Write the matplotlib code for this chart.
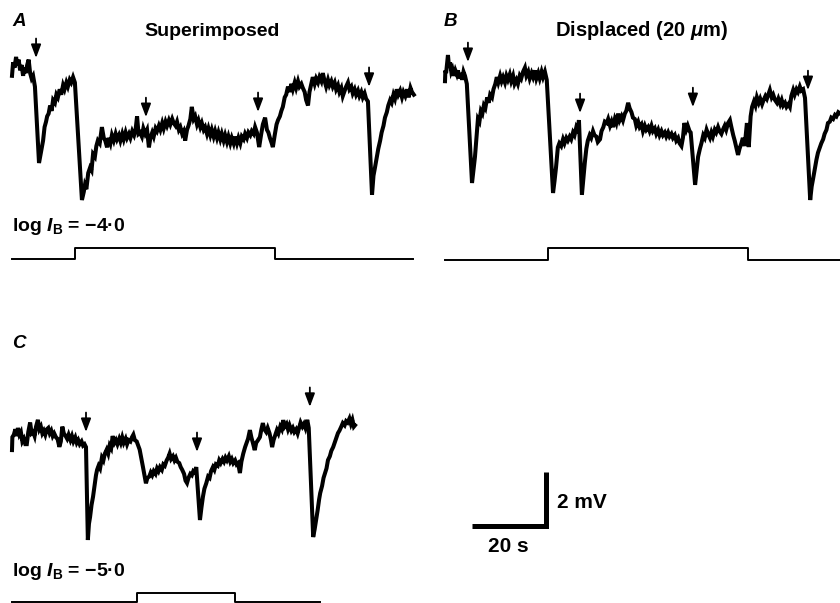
import matplotlib
matplotlib.use("Agg")
import matplotlib.pyplot as plt

plt.rcParams['font.family'] = ['Liberation Sans', 'DejaVu Sans']
plt.rcParams['mathtext.fontset'] = 'custom'
plt.rcParams['mathtext.rm'] = 'Liberation Sans:bold'
plt.rcParams['mathtext.it'] = 'Liberation Sans:italic:bold'
plt.rcParams['mathtext.bf'] = 'Liberation Sans:bold'

# ---- data: (time s, potential mV relative to deepest trough) ----
trace_A = [
    (0.0, 4.6), (0.3, 5.1), (0.7, 4.9), (1.1, 5.3), (1.4, 5.0), (1.8, 5.2), (2.2, 4.8),
    (2.6, 5.0), (3.0, 4.6), (3.3, 4.9), (3.7, 4.7), (4.1, 5.0), (4.5, 5.2), (4.9, 4.7),
    (5.3, 4.5), (5.7, 4.6), (6.2, 4.2), (7.3, 1.37), (8.0, 1.9), (8.4, 2.2), (8.8, 2.7),
    (9.2, 2.9), (9.5, 3.1), (9.9, 3.2), (10.3, 3.5), (10.7, 3.3), (11.1, 3.7), (11.6, 3.6),
    (12.0, 3.9), (12.4, 3.8), (12.9, 4.1), (13.3, 3.9), (13.8, 4.25), (14.2, 4.1),
    (14.7, 4.35), (15.1, 4.2), (15.6, 4.45), (16.0, 4.35), (16.5, 4.55), (17.0, 4.35),
    (18.9, 0.0), (19.4, 0.3), (19.7, 0.55), (20.1, 0.4), (20.6, 1.0), (21.1, 1.2),
    (21.5, 1.1), (21.9, 1.7), (22.4, 1.6), (22.8, 2.0), (23.2, 2.2), (23.7, 2.1),
    (24.3, 2.7), (24.8, 2.3), (25.2, 2.2), (25.7, 1.95), (26.1, 2.3), (26.6, 2.1),
    (27.0, 2.4), (27.5, 2.2), (28.0, 2.45), (28.4, 2.25), (28.9, 2.4), (29.3, 2.2),
    (29.8, 2.45), (30.2, 2.25), (30.7, 2.5), (31.1, 2.3), (31.6, 2.45), (32.0, 2.3),
    (32.5, 2.55), (33.0, 2.4), (33.4, 2.6), (33.8, 3.1), (34.2, 2.45), (34.6, 2.5),
    (35.1, 2.35), (35.5, 2.65), (36.0, 2.45), (36.5, 2.6), (37.0, 1.95), (37.4, 2.3),
    (37.9, 2.5), (38.3, 2.35), (38.8, 2.65), (39.2, 2.55), (39.7, 2.75), (40.1, 2.6),
    (40.6, 2.85), (41.0, 2.65), (41.5, 2.9), (41.9, 2.75), (42.4, 2.95), (42.8, 2.8),
    (43.3, 3.0), (43.7, 2.85), (44.2, 2.75), (44.6, 2.9), (45.1, 2.6), (45.5, 2.7),
    (46.0, 2.45), (46.4, 2.55), (46.8, 2.2), (47.3, 2.6), (47.7, 2.75), (48.2, 3.0),
    (48.6, 3.45), (49.1, 3.0), (49.5, 3.1), (50.0, 2.8), (50.4, 2.95), (50.9, 2.7),
    (51.3, 2.85), (51.8, 2.6), (52.2, 2.7), (52.7, 2.45), (53.1, 2.65), (53.6, 2.4),
    (54.0, 2.6), (54.5, 2.35), (54.9, 2.55), (55.4, 2.3), (55.8, 2.5), (56.3, 2.25),
    (56.7, 2.45), (57.2, 2.2), (57.6, 2.4), (58.1, 2.15), (58.5, 2.35), (59.0, 2.1),
    (59.4, 2.3), (59.9, 2.1), (60.3, 2.35), (60.8, 2.1), (61.2, 2.3), (61.7, 2.1),
    (62.1, 2.35), (62.6, 2.25), (63.0, 2.45), (63.5, 2.3), (63.9, 2.5), (64.4, 2.4),
    (64.8, 2.55), (65.3, 2.45), (65.7, 2.7), (66.2, 2.5), (66.8, 1.96), (67.3, 2.4),
    (67.8, 2.8), (68.4, 3.05), (68.9, 2.6), (69.3, 2.5), (69.7, 2.3), (70.2, 2.1),
    (70.5, 1.96), (71.0, 2.4), (71.5, 2.8), (71.9, 2.96), (72.4, 3.1), (72.8, 3.3),
    (73.2, 3.45), (73.7, 3.8), (74.1, 3.9), (74.6, 4.2), (75.0, 4.0), (75.5, 4.3),
    (75.9, 4.1), (76.4, 4.35), (76.8, 4.15), (77.3, 4.4), (77.7, 4.2), (78.2, 4.3),
    (78.6, 4.15), (79.1, 4.0), (79.5, 3.7), (80.0, 3.5), (80.4, 4.0), (80.9, 4.3),
    (81.3, 4.55), (81.8, 4.3), (82.2, 4.5), (82.7, 4.35), (83.1, 4.55), (83.6, 4.4),
    (84.0, 4.7), (84.5, 4.4), (84.9, 4.2), (85.4, 4.45), (85.8, 4.25), (86.3, 4.4),
    (86.7, 4.2), (87.2, 4.35), (87.6, 4.1), (88.1, 4.25), (88.5, 4.0), (89.0, 4.15),
    (89.4, 3.85), (89.9, 4.05), (90.3, 4.2), (90.8, 4.35), (91.2, 4.1), (91.7, 4.2),
    (92.1, 3.95), (92.6, 4.1), (93.0, 3.9), (93.5, 4.05), (93.9, 3.85), (94.4, 4.0),
    (94.8, 3.8), (95.3, 3.95), (95.7, 3.75), (96.2, 3.65), (97.3, 0.19), (97.7, 0.9),
    (98.1, 1.2), (98.6, 1.6), (99.0, 1.9), (99.5, 2.2), (99.9, 2.5), (100.4, 2.75),
    (100.8, 3.05), (101.3, 3.25), (101.7, 3.5), (102.2, 3.7), (102.6, 3.6), (103.1, 3.9),
    (103.5, 3.75), (104.0, 4.1), (104.4, 3.9), (104.9, 4.05), (105.4, 3.8), (105.8, 4.0),
    (106.3, 3.85), (106.8, 4.1), (107.2, 3.8), (107.7, 4.15), (108.1, 4.0), (108.6, 3.9),
]
arrows_A_t = [6.5, 36.2, 66.5, 96.5]
arrows_A_v = [5.26, 3.07, 3.26, 4.19]

trace_B = [
    (0.0, 4.4), (0.1, 4.8), (0.3, 4.7), (0.6, 5.1), (0.8, 5.37), (1.1, 4.9), (1.35, 5.1),
    (1.7, 4.75), (2.0, 4.85), (2.4, 4.6), (2.8, 4.8), (3.2, 4.65), (3.5, 4.8), (3.9, 4.5),
    (4.3, 4.7), (4.6, 4.45), (5.0, 4.75), (5.4, 4.6), (5.9, 4.3), (7.3, 0.63), (7.7, 1.1),
    (8.1, 1.6), (8.5, 2.3), (8.9, 3.0), (9.3, 2.9), (9.7, 3.3), (10.1, 3.2), (10.5, 3.5),
    (10.9, 3.4), (11.4, 3.8), (11.8, 3.6), (12.2, 3.9), (12.7, 3.8), (13.1, 4.1),
    (13.6, 4.3), (14.0, 4.55), (14.4, 4.35), (14.9, 4.6), (15.3, 4.4), (15.7, 4.55),
    (16.2, 4.35), (16.6, 4.6), (17.0, 4.45), (17.5, 4.65), (17.9, 4.4), (18.4, 4.6),
    (18.8, 4.3), (19.3, 4.45), (19.7, 4.3), (20.2, 4.6), (20.6, 4.5), (21.1, 4.75),
    (21.6, 4.9), (22.0, 4.6), (22.5, 4.75), (22.9, 4.5), (23.4, 4.7), (23.8, 4.55),
    (24.3, 4.8), (24.7, 4.5), (25.2, 4.7), (25.6, 4.5), (26.1, 4.75), (26.5, 4.55),
    (27.0, 4.75), (27.5, 4.45), (29.2, 0.26), (29.6, 0.7), (30.0, 1.2), (30.5, 1.95),
    (30.9, 2.1), (31.4, 2.0), (31.9, 2.25), (32.3, 2.1), (32.8, 2.3), (33.2, 2.2),
    (33.7, 2.35), (34.1, 2.25), (34.6, 2.5), (35.0, 2.4), (35.5, 2.7), (35.9, 2.6),
    (36.2, 2.96), (37.0, 0.19), (37.4, 0.8), (37.8, 1.4), (38.2, 1.9), (38.6, 2.2),
    (39.1, 2.4), (39.5, 2.3), (40.0, 2.55), (40.4, 2.4), (40.9, 2.35), (41.3, 2.15),
    (41.9, 2.25), (42.3, 2.55), (42.8, 2.7), (43.2, 2.9), (43.7, 2.85), (44.1, 3.0),
    (44.6, 2.75), (45.0, 2.9), (45.4, 2.7), (45.9, 3.0), (46.3, 2.85), (46.8, 3.2),
    (47.2, 2.95), (47.7, 3.1), (48.1, 2.95), (48.6, 3.2), (49.0, 3.3), (49.5, 3.6),
    (49.9, 3.4), (50.4, 3.25), (50.8, 3.05), (51.3, 3.0), (51.7, 2.75), (52.2, 2.9),
    (52.6, 2.7), (53.1, 2.8), (53.5, 2.55), (54.0, 2.75), (54.4, 2.6), (54.9, 2.7),
    (55.3, 2.55), (55.8, 2.75), (56.2, 2.55), (56.7, 2.65), (57.1, 2.45), (57.6, 2.6),
    (58.0, 2.4), (58.5, 2.55), (58.9, 2.4), (59.4, 2.5), (59.8, 2.35), (60.3, 2.5),
    (60.7, 2.35), (61.2, 2.45), (61.6, 2.3), (62.1, 2.4), (62.5, 2.2), (63.0, 2.3),
    (63.4, 2.1), (63.9, 2.0), (64.3, 2.3), (64.7, 2.85), (65.2, 2.6), (65.6, 2.75),
    (66.1, 2.55), (66.4, 2.5), (67.6, 0.56), (68.0, 1.1), (68.4, 1.6), (68.9, 1.9),
    (69.3, 2.1), (69.8, 2.4), (70.2, 2.3), (70.7, 2.6), (71.1, 2.45), (71.6, 2.3),
    (72.0, 2.5), (72.4, 2.35), (72.9, 2.6), (73.3, 2.5), (73.8, 2.7), (74.2, 2.55),
    (74.7, 2.45), (75.1, 2.6), (75.6, 2.75), (76.0, 2.6), (76.5, 2.85), (77.0, 2.96),
    (77.4, 2.7), (77.9, 2.4), (78.3, 2.2), (78.8, 1.9), (79.2, 1.67), (79.6, 1.9),
    (80.1, 2.1), (80.5, 2.3), (81.0, 2.0), (81.6, 2.85), (82.1, 1.96), (82.6, 3.1),
    (83.0, 3.45), (83.5, 3.65), (83.9, 3.5), (84.3, 3.8), (84.8, 3.6), (85.2, 3.75),
    (85.7, 3.55), (86.1, 3.7), (86.6, 3.85), (87.0, 3.75), (87.5, 3.95), (87.8, 4.07),
    (88.3, 3.8), (88.7, 3.9), (89.2, 3.7), (89.7, 3.6), (90.1, 3.75), (90.6, 3.55),
    (91.0, 3.7), (91.4, 3.5), (91.9, 3.6), (92.3, 3.45), (92.8, 3.55), (93.2, 3.45),
    (93.6, 3.85), (94.1, 4.07), (94.5, 3.9), (95.0, 4.1), (95.4, 4.0), (95.9, 4.2),
    (96.3, 4.05), (96.8, 4.1), (97.3, 3.78), (98.7, 0.0), (99.1, 0.5), (99.5, 0.8),
    (100.0, 1.2), (100.4, 1.5), (100.8, 1.75), (101.3, 1.95), (101.7, 2.1), (102.2, 2.25),
    (102.6, 2.45), (103.1, 2.6), (103.5, 2.85), (104.0, 2.9), (104.4, 3.05), (104.9, 3.0),
    (105.4, 3.15), (105.8, 3.1), (106.3, 3.25), (106.8, 3.2),
]
arrows_B_t = [6.2, 36.5, 67.0, 98.1]
arrows_B_v = [5.11, 3.22, 3.44, 4.07]

trace_C = [
    (0.0, 3.33), (0.1, 3.81), (0.5, 3.9), (0.9, 4.1), (1.3, 3.85), (1.6, 4.15), (2.0, 3.9),
    (2.4, 4.0), (2.8, 3.65), (3.2, 3.75), (3.6, 3.55), (4.0, 3.55), (4.4, 4.0), (4.9, 4.35),
    (5.3, 3.95), (5.7, 4.0), (6.1, 3.85), (6.5, 4.2), (7.0, 4.45), (7.4, 4.1), (7.8, 4.2),
    (8.2, 3.95), (8.6, 4.05), (9.0, 3.9), (9.4, 4.1), (9.8, 4.15), (10.2, 3.95),
    (10.6, 4.05), (11.0, 3.85), (11.4, 3.95), (11.9, 3.8), (12.3, 3.75), (12.8, 3.45),
    (13.2, 3.65), (13.6, 4.2), (14.0, 3.95), (14.5, 3.85), (14.9, 3.75), (15.3, 3.9),
    (15.8, 3.7), (16.2, 3.85), (16.6, 3.65), (17.1, 3.8), (17.5, 3.6), (17.9, 3.7),
    (18.3, 3.55), (18.8, 3.65), (19.2, 3.5), (19.6, 3.55), (20.0, 3.44), (20.5, 0.0),
    (20.8, 0.6), (21.1, 0.85), (21.5, 1.3), (21.9, 1.6), (22.3, 2.0), (22.7, 2.4),
    (23.0, 2.6), (23.4, 2.75), (23.8, 2.65), (24.3, 3.05), (24.7, 2.95), (25.1, 3.2),
    (25.6, 3.35), (26.0, 3.2), (26.4, 3.5), (26.8, 3.4), (27.2, 3.85), (27.7, 3.6),
    (28.1, 3.7), (28.5, 3.55), (29.0, 3.75), (29.4, 3.6), (29.8, 3.8), (30.2, 3.6),
    (30.7, 3.75), (31.1, 3.55), (31.5, 3.7), (32.0, 3.65), (32.4, 3.8), (32.8, 3.9),
    (33.2, 3.7), (33.7, 3.65), (34.1, 3.5), (34.5, 3.35), (35.0, 3.0), (35.4, 2.7),
    (35.8, 2.4), (36.2, 2.1), (36.6, 2.3), (37.1, 2.35), (37.5, 2.5), (37.9, 2.4),
    (38.3, 2.55), (38.8, 2.45), (39.2, 2.65), (39.6, 2.55), (40.0, 2.7), (40.5, 2.6),
    (40.9, 2.8), (41.3, 2.75), (41.8, 2.95), (42.2, 3.05), (42.6, 3.2), (43.0, 3.0),
    (43.5, 3.1), (43.9, 2.95), (44.3, 3.05), (44.7, 2.9), (45.2, 2.85), (45.6, 2.7),
    (46.0, 2.6), (46.5, 2.45), (46.9, 2.2), (47.3, 2.11), (47.7, 2.3), (48.2, 2.45),
    (48.6, 2.4), (49.0, 2.55), (49.4, 2.5), (49.8, 2.7), (50.8, 0.74), (51.2, 1.2),
    (51.6, 1.6), (52.0, 1.9), (52.5, 2.1), (53.0, 2.35), (53.4, 2.3), (53.8, 2.55),
    (54.3, 2.7), (54.7, 2.6), (55.1, 2.8), (55.6, 2.75), (56.0, 2.95), (56.4, 2.85),
    (56.9, 3.0), (57.3, 2.9), (57.7, 3.05), (58.1, 2.95), (58.6, 3.1), (59.0, 2.9),
    (59.4, 3.0), (59.8, 2.85), (60.3, 2.95), (60.7, 2.8), (61.1, 2.85), (61.6, 2.48),
    (62.0, 2.9), (62.5, 3.2), (63.0, 3.44), (63.4, 3.6), (63.8, 3.75), (64.3, 4.07),
    (64.7, 3.8), (65.1, 3.6), (65.6, 3.33), (66.0, 3.6), (66.5, 3.7), (67.0, 3.81),
    (67.4, 4.1), (67.8, 4.33), (68.2, 4.1), (68.7, 4.0), (69.1, 4.15), (69.6, 3.95),
    (70.0, 3.7), (70.3, 3.44), (70.7, 3.7), (71.2, 3.9), (71.6, 4.07), (72.0, 3.95),
    (72.5, 4.2), (72.9, 4.1), (73.3, 4.44), (73.7, 4.2), (74.2, 4.3), (74.6, 4.1),
    (75.0, 4.25), (75.5, 4.05), (75.9, 4.15), (76.3, 4.0), (76.8, 4.1), (77.2, 3.95),
    (77.6, 4.15), (78.0, 4.35), (78.5, 4.2), (78.9, 4.3), (79.3, 4.15), (79.8, 4.45),
    (80.2, 4.15), (81.4, 0.11), (81.8, 0.4), (82.2, 0.74), (82.6, 1.1), (83.0, 1.5),
    (83.3, 1.74), (83.8, 2.0), (84.2, 2.3), (84.6, 2.48), (85.0, 2.65), (85.4, 2.96),
    (85.9, 3.1), (86.3, 3.3), (86.8, 3.44), (87.2, 3.6), (87.6, 3.75), (88.1, 3.96),
    (88.5, 4.05), (89.0, 4.2), (89.4, 4.33), (89.9, 4.25), (90.3, 4.4), (90.7, 4.35),
    (91.2, 4.5), (91.6, 4.3), (92.0, 4.45), (92.4, 4.2), (92.7, 4.25),
]
arrows_C_t = [20.0, 50.0, 80.5]
arrows_C_v = [4.00, 3.26, 4.93]

# light stimulus: on time, off time, end of record (s)
stim_A = [17.0, 71.1, 108.4]
stim_B = [27.8, 81.9, 106.8]
stim_C = [33.8, 60.3, 83.2]

panel_titles = ['Superimposed', r'Displaced (20 $\mathit{μ}$m)']
intensity_labels = [r'log $\mathit{I}_\mathbf{B}$ = −4·0', r'log $\mathit{I}_\mathbf{B}$ = −5·0']
scale_time = 20   # s
scale_volt = 2    # mV

# ---- layout (pixels) ----
W, H = 840, 603
PX_S = 3.7
PX_MV = 27.0

fig = plt.figure(figsize=(W / 100, H / 100), dpi=100)


def px_axes(left, top, width, height):
    ax = fig.add_axes([left / W, 1 - (top + height) / H, width / W, height / H])
    ax.set_axis_off()
    return ax


def trace_axes(left, base_y):
    ax = px_axes(left, base_y - 170, 110 * PX_S, 180)
    ax.set_xlim(0, 110)
    ax.set_ylim(-10 / PX_MV, 170 / PX_MV)
    return ax


def draw_trace(ax, trace, at, av):
    t = [p[0] for p in trace]
    v = [p[1] for p in trace]
    ax.plot(t, v, color='black', lw=2.9, solid_joinstyle='miter', clip_on=False)
    for x, y in zip(at, av):
        ax.annotate('', xy=(x, y), xytext=(x, y + 0.72),
                    arrowprops=dict(arrowstyle='-|>,head_length=0.8,head_width=0.3',
                                    color='black', lw=1.3, shrinkA=0, shrinkB=0),
                    annotation_clip=False)


def draw_stim(left, base_y, unit_px, stim):
    ax = px_axes(left, base_y - 20, 110 * PX_S, 30)
    ax.set_xlim(0, 110)
    ax.set_ylim(-10 / unit_px, 20 / unit_px)
    on, off, end = stim
    ax.plot([0, on, on, off, off, end], [0, 0, 1, 1, 0, 0], color='black',
            lw=1.4, clip_on=False)
    return ax


def ftext(x, y, s, **kw):
    fig.text(x / W, 1 - y / H, s, **kw)


axA = trace_axes(12, 200)
draw_trace(axA, trace_A, arrows_A_t, arrows_A_v)
axB = trace_axes(445, 200)
draw_trace(axB, trace_B, arrows_B_t, arrows_B_v)
axC = trace_axes(12, 540)
draw_trace(axC, trace_C, arrows_C_t, arrows_C_v)

draw_stim(12, 259, 11, stim_A)
draw_stim(445, 260, 12, stim_B)
draw_stim(12, 602, 9, stim_C)

# scale bar, drawn in panel C units
t0, v0 = 144.3, 0.52
axC.plot([t0 - scale_time, t0, t0], [v0, v0, v0 + scale_volt], color='black',
         lw=3.6, solid_joinstyle='miter', solid_capstyle='butt', clip_on=False)
ftext(557, 502, f'{scale_volt} mV', fontsize=15, weight='bold', ha='left', va='center')
ftext(508, 547, f'{scale_time} s', fontsize=15, weight='bold', ha='center', va='center')

# panel letters and titles
for x, y, s in [(12, 21, 'A'), (444, 21, 'B'), (12, 343, 'C')]:
    ftext(x, y, s, fontsize=13.5, style='italic', weight='bold', ha='left', va='center')
ftext(212, 31, panel_titles[0], fontsize=14, weight='bold', ha='center', va='center')
ftext(642, 31, panel_titles[1], fontsize=14.5, weight='bold', ha='center', va='center')
ftext(12, 227, intensity_labels[0], fontsize=14, weight='bold', ha='left', va='center')
ftext(12, 572, intensity_labels[1], fontsize=14, weight='bold', ha='left', va='center')

fig.savefig('out.png', dpi=100)
